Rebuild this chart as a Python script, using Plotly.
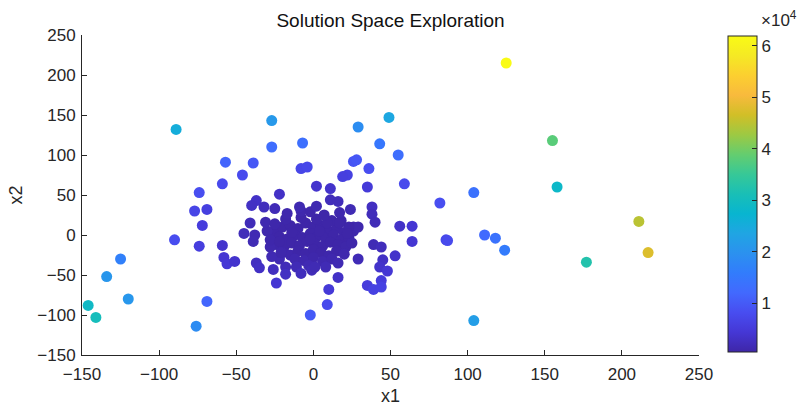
import plotly.graph_objects as go

# ---- data ----
x1_outer = [-89, -74, -77, -72, -90, -74, -125, -134, -120, -146, -141, -76, -69,
            -27, -27, -7, -57, -39, -46, -59, -8, -4, -22, -37, -40, -32, -25, -9, -69,
            -59, -58, -56, -51, -37, -35, -26, -18, -18, -11, -8, -24, -2, -1,
            -41, -45, -38, -39, -31, -25, -28, -27, -21, -22,
            -17, -2, 2, 2, 11, 11, 16,
            82, 86, 38, 38, 40, 24, 17, 56, 64, 64, 39, 44, 53, 45, 43, 48, 29, 16, 16, 10, 9, 35, 39, 44, 44, 1, 26, 29, 23, 22, 17,
            49, 29, 43, 55, 26, 28, 36, 22, 19, 59, 35,
            125, 155, 104, 158, 87, 111, 118, 124, 211, 217, 177, 104]
x2_outer = [132, 53, 30, 12, -6, -14, -30, -52, -80, -88, -103, -114, -83,
            143, 110, 115, 91, 90, 75, 64, 83, 85, 51, 43, 37, 35, 33, 35, 32,
            -13, -28, -36, -33, -35, -41, -43, -40, -49, -40, -48, -60, -100, -44,
            15, 2, 0, -8, 16, 14, -6, -27, -22, -8,
            27, 29, 36, 61, 58, 44, 42,
            40, -6, 35, 26, 16, 32, 28, 11, 11, -8, -12, -15, -26, -31, -40, -45, -30, -35, -53, -68, -87, -63, -68, -57, -65, -40, 10, 10, 10, 2, 15,
            147, 135, 114, 100, 92, 94, 83, 75, 73, 64, 60,
            215, 118, 53, 60, -7, 0, -4, -19, 17, -22, -34, -107]

x1_core = [-25, -20, -15, -10, -5, 0, 5, 10, 15, 20,
           -22, -17, -12, -7, -2, 3, 8, 13, 18, 23,
           -24, -19, -14, -9, -4, 1, 6, 11, 16, 21,
           -20, -15, -10, -5, 0, 5, 10, 15, 20,
           -12, -6, 0, 6, 12, -3, 8,
           -18, -8, 2, 12, -28, -2, 4, -14, 9, 25,
           -30, 26, -8, 7, 18, -22]
x2_core = [5, 10, 12, 8, 15, 10, 12, 5, 8, 3,
           -2, -5, 0, -3, 2, -1, -4, 0, -6, -3,
           -12, -15, -10, -13, -8, -11, -14, -9, -12, -15,
           -22, -25, -20, -23, -18, -22, -26, -20, -24,
           -30, -32, -28, -33, -30, -38, -40,
           20, 22, 20, 18, -15, -5, 5, 3, 15, -10,
           5, 5, 30, 25, 18, -30]

x_ticks = [-150, -100, -50, 0, 50, 100, 150, 200, 250]
y_ticks = [-150, -100, -50, 0, 50, 100, 150, 200, 250]
cbar_ticks = [10000, 20000, 30000, 40000, 50000, 60000]
cbar_text = ["1", "2", "3", "4", "5", "6"]

x1 = x1_core + x1_outer
x2 = x2_core + x2_outer
cost = [a * a + b * b for a, b in zip(x1, x2)]

parula_rgb = [
    (0.2422, 0.1504, 0.6603), (0.2706, 0.2147, 0.8364), (0.2813, 0.3006, 0.9414),
    (0.2602, 0.4123, 0.9952), (0.1963, 0.4847, 0.9892), (0.1687, 0.5703, 0.9359),
    (0.1248, 0.6459, 0.8883), (0.0297, 0.7082, 0.8163), (0.0964, 0.7500, 0.7120),
    (0.2161, 0.7843, 0.5923), (0.3909, 0.8029, 0.4354), (0.6174, 0.7876, 0.2612),
    (0.8203, 0.7498, 0.1535), (0.9728, 0.7298, 0.2394), (0.9892, 0.8136, 0.1885),
    (0.9597, 0.9135, 0.1423), (0.9769, 0.9839, 0.0805)]
n = len(parula_rgb)
parula = [[i / (n - 1), "rgb(%d,%d,%d)" % tuple(round(c * 255) for c in rgb)]
          for i, rgb in enumerate(parula_rgb)]

FONT = "Liberation Sans, Arial, Helvetica, sans-serif"
AX = "#262626"

fig = go.Figure(go.Scatter(
    x=x1, y=x2, mode="markers",
    marker=dict(size=11, color=cost, colorscale=parula, cmin=550, cmax=max(cost),
                line=dict(width=0), showscale=True,
                colorbar=dict(thickness=29, thicknessmode="pixels", len=316, lenmode="pixels",
                              x=1.047, xanchor="left", xpad=0, y=0.503, yanchor="middle", ypad=0,
                              tickvals=cbar_ticks, ticktext=cbar_text, ticks="inside", ticklen=5,
                              tickcolor=AX, outlinecolor=AX, outlinewidth=1,
                              tickfont=dict(size=17, color=AX, family=FONT))),
    hoverinfo="x+y"))

axis_common = dict(showline=True, linecolor=AX, linewidth=1, ticks="inside", ticklen=5,
                   tickcolor=AX, showgrid=False, zeroline=False, mirror=False, automargin=False,
                   tickfont=dict(size=17, color=AX, family=FONT))

fig.update_layout(
    width=797, height=406,
    margin=dict(l=82, r=98, t=35, b=51),
    paper_bgcolor="white", plot_bgcolor="white",
    showlegend=False,
    font=dict(family=FONT, color=AX),
    title=dict(text="Solution Space Exploration", x=0.49, xanchor="center",
               y=1 - 20 / 406, yanchor="middle", font=dict(size=19, color="#111", family=FONT)),
    xaxis=dict(range=[-150, 250], tickvals=x_ticks, ticklabelstandoff=4,
               title=dict(text="x1", standoff=6, font=dict(size=18, color=AX, family=FONT)),
               **axis_common),
    yaxis=dict(range=[-150, 250], tickvals=y_ticks, ticklabelstandoff=2,
               title=dict(text="x2", standoff=10, font=dict(size=18, color=AX, family=FONT)),
               **axis_common),
    annotations=[dict(text="×10<sup>4</sup>", xref="paper", yref="paper", x=1.13, y=1.05,
                      xanchor="center", yanchor="middle", showarrow=False,
                      font=dict(size=17, color=AX, family=FONT))],
)

fig.write_html("out.html")
